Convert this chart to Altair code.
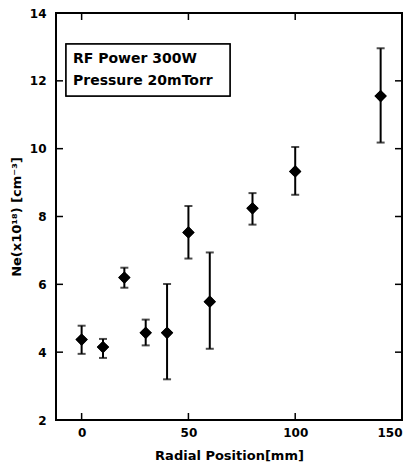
import altair as alt
import pandas as pd

# Data
radial_mm = [0, 10, 20, 30, 40, 50, 60, 80, 100, 140]
ne_val = [4.37, 4.15, 6.20, 4.57, 4.57, 7.53, 5.49, 8.24, 9.33, 11.55]
ne_hi = [4.78, 4.39, 6.49, 4.96, 6.01, 8.31, 6.94, 8.69, 10.05, 12.96]
ne_lo = [3.95, 3.83, 5.90, 4.20, 3.20, 6.76, 4.10, 7.76, 8.64, 10.18]

x_ticks = [0, 50, 100, 150]
y_ticks = [2, 4, 6, 8, 10, 12, 14]
legend_lines = ["RF Power 300W", "Pressure 20mTorr"]

W, H = 346, 407
FONT = "DejaVu Sans"

df = pd.DataFrame({"x": radial_mm, "y": ne_val, "hi": ne_hi, "lo": ne_lo})
xt = pd.DataFrame({"x": x_ticks})
yt = pd.DataFrame({"y": y_ticks})
lg = pd.DataFrame({"label": legend_lines, "row": [0, 1]})

xscale = alt.Scale(domain=[-12, 150], nice=False, zero=False)
yscale = alt.Scale(domain=[2, 14], nice=False, zero=False)

xenc = alt.X("x:Q", scale=xscale, axis=alt.Axis(
    title="Radial Position[mm]", values=x_ticks, ticks=False, tickSize=0,
    domain=False, grid=False, labelPadding=7, titlePadding=11,
    labelFont=FONT, labelFontSize=12, labelFontWeight="bold", labelColor="black",
    titleFont=FONT, titleFontSize=13, titleFontWeight="bold", titleColor="black"))
yenc = alt.Y("y:Q", scale=yscale, axis=alt.Axis(
    title="Ne(x10¹⁸) [cm⁻³]", values=y_ticks, ticks=False, tickSize=0,
    domain=False, grid=False, labelPadding=10, titlePadding=6,
    labelFont=FONT, labelFontSize=12, labelFontWeight="bold", labelColor="black",
    titleFont=FONT, titleFontSize=13, titleFontWeight="bold", titleColor="black"))
xplain = alt.X("x:Q", scale=xscale)
base = alt.Chart(df)

points = base.mark_point(shape="diamond", filled=True, size=150, color="black", opacity=1).encode(
    x=xenc, y=yenc)

bars = base.mark_rule(color="black", strokeWidth=2).encode(
    x=xplain, y=alt.Y("lo:Q", scale=yscale), y2="hi:Q")
cap_hi = base.mark_tick(color="black", thickness=2, size=8, orient="horizontal").encode(
    x=xplain, y=alt.Y("hi:Q", scale=yscale))
cap_lo = base.mark_tick(color="black", thickness=2, size=8, orient="horizontal").encode(
    x=xplain, y=alt.Y("lo:Q", scale=yscale))

# inward ticks on all four sides
tl = 7
bottom_t = alt.Chart(xt).mark_rule(color="black", strokeWidth=1.5).encode(
    x=xplain, y=alt.value(H - tl), y2=alt.value(H))
top_t = alt.Chart(xt).mark_rule(color="black", strokeWidth=1.5).encode(
    x=xplain, y=alt.value(0), y2=alt.value(tl))
left_t = alt.Chart(yt).mark_rule(color="black", strokeWidth=1.5).encode(
    y=alt.Y("y:Q", scale=yscale), x=alt.value(0), x2=alt.value(tl))
right_t = alt.Chart(yt).mark_rule(color="black", strokeWidth=1.5).encode(
    y=alt.Y("y:Q", scale=yscale), x=alt.value(W - tl), x2=alt.value(W))

box = alt.Chart(lg).mark_rect(fill="white", stroke="black", strokeWidth=1.5).encode(
    x=alt.value(10), x2=alt.value(174), y=alt.value(31), y2=alt.value(83))

def legend_row(i, ypix):
    return alt.Chart(lg).transform_filter(alt.datum.row == i).mark_text(
        align="left", baseline="middle", font=FONT, fontSize=14, fontWeight="bold", color="black"
    ).encode(x=alt.value(17), y=alt.value(ypix), text="label:N")

chart = alt.layer(
    points, bars, cap_hi, cap_lo, bottom_t, top_t, left_t, right_t, box,
    legend_row(0, 46), legend_row(1, 68), points
).properties(
    width=W, height=H, background="white",
    autosize=alt.AutoSizeParams(type="none"),
    padding={"left": 48, "top": 5, "right": 5, "bottom": 45},
).configure_view(stroke="black", strokeWidth=2)

chart.save("out.html", embed_options={"renderer": "svg", "actions": False})
